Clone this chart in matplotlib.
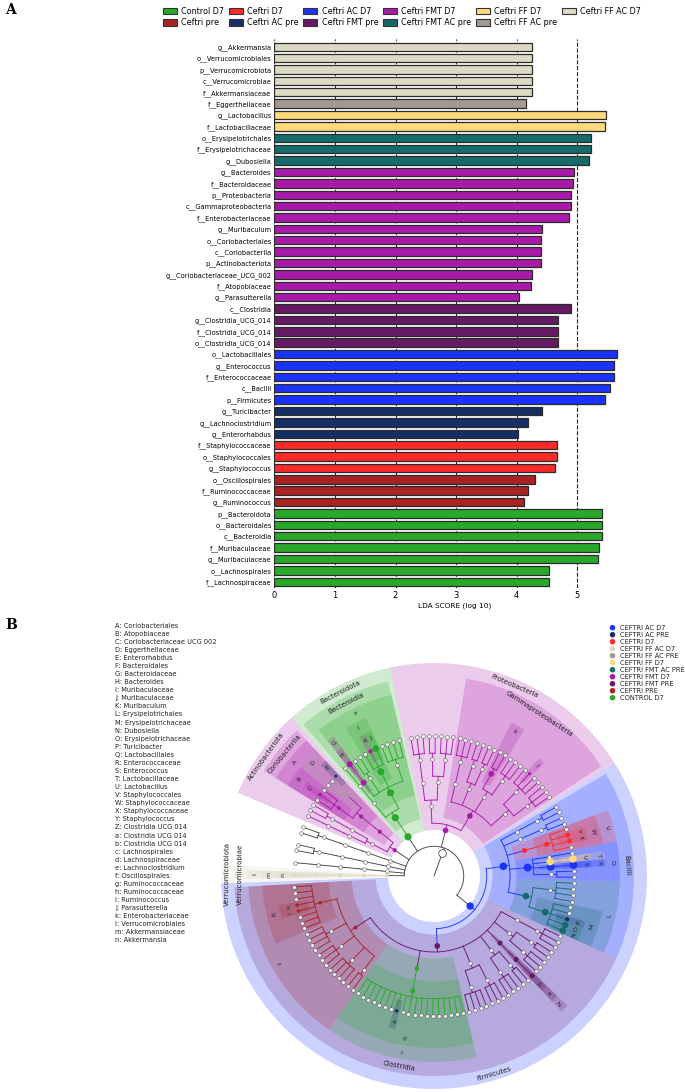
import numpy as np
import matplotlib.pyplot as plt
from matplotlib.patches import Patch, Wedge

# ---------------- panel A : LDA scores (top to bottom)
features = [
    'g__Akkermansia', 'o__Verrucomicrobiales', 'p__Verrucomicrobiota', 'c__Verrucomicrobiae',
    'f__Akkermansiaceae', 'f__Eggerthellaceae', 'g__Lactobacillus', 'f__Lactobacillaceae',
    'o__Erysipelotrichales', 'f__Erysipelotrichaceae', 'g__Dubosiella', 'g__Bacteroides',
    'f__Bacteroidaceae', 'p__Proteobacteria', 'c__Gammaproteobacteria', 'f__Enterobacteriaceae',
    'g__Muribaculum', 'o__Coriobacteriales', 'c__Coriobacteriia', 'p__Actinobacteriota',
    'g__Coriobacteriaceae_UCG_002', 'f__Atopobiaceae', 'g__Parasutterella', 'c__Clostridia',
    'g__Clostridia_UCG_014', 'f__Clostridia_UCG_014', 'o__Clostridia_UCG_014', 'o__Lactobacillales',
    'g__Enterococcus', 'f__Enterococcaceae', 'c__Bacilli', 'p__Firmicutes',
    'g__Turicibacter', 'g__Lachnoclostridium', 'g__Enterorhabdus', 'f__Staphylococcaceae',
    'o__Staphylococcales', 'g__Staphylococcus', 'o__Oscillospirales', 'f__Ruminococcaceae',
    'g__Ruminococcus', 'p__Bacteroidota', 'o__Bacteroidales', 'c__Bacteroidia',
    'f__Muribaculaceae', 'g__Muribaculaceae', 'o__Lachnospirales', 'f__Lachnospiraceae',
]
lda = [
    4.26, 4.26, 4.26, 4.26, 4.26, 4.16, 5.47, 5.46,
    5.22, 5.22, 5.19, 4.94, 4.93, 4.89, 4.89, 4.87,
    4.41, 4.40, 4.40, 4.40, 4.25, 4.24, 4.03, 4.90,
    4.68, 4.68, 4.68, 5.65, 5.60, 5.60, 5.54, 5.45,
    4.41, 4.18, 4.02, 4.67, 4.67, 4.63, 4.30, 4.18,
    4.12, 5.40, 5.40, 5.40, 5.35, 5.34, 4.54, 4.54,
]
groups = (['Ceftri FF AC D7'] * 5 + ['Ceftri FF AC pre'] + ['Ceftri FF D7'] * 2
          + ['Ceftri FMT AC pre'] * 3 + ['Ceftri FMT D7'] * 12 + ['Ceftri FMT pre'] * 4
          + ['Ceftri AC D7'] * 5 + ['Ceftri AC pre'] * 3 + ['Ceftri D7'] * 3
          + ['Ceftri pre'] * 3 + ['Control D7'] * 7)

# legend order (matplotlib fills column by column)
legend_groups = ['Control D7', 'Ceftri pre', 'Ceftri D7', 'Ceftri AC pre', 'Ceftri AC D7',
                 'Ceftri FMT pre', 'Ceftri FMT D7', 'Ceftri FMT AC pre', 'Ceftri FF D7',
                 'Ceftri FF AC pre', 'Ceftri FF AC D7']
group_colors = {
    'Control D7': '#2aa82a', 'Ceftri D7': '#ff2a2a', 'Ceftri AC D7': '#1a33ff',
    'Ceftri FMT D7': '#aa1aaa', 'Ceftri FF D7': '#ffd97a', 'Ceftri FF AC D7': '#dcdac4',
    'Ceftri pre': '#aa2222', 'Ceftri AC pre': '#142f66', 'Ceftri FMT pre': '#661a66',
    'Ceftri FMT AC pre': '#156b6b', 'Ceftri FF AC pre': '#a39a92',
}

# ---------------- panel B : cladogram
clade_key = [
    'A: Coriobacteriales', 'B: Atopobiaceae', 'C: Coriobacteriaceae UCG 002', 'D: Eggerthellaceae',
    'E: Enterorhabdus', 'F: Bacteroidales', 'G: Bacteroidaceae', 'H: Bacteroides',
    'I: Muribaculaceae', 'J: Muribaculaceae', 'K: Muribaculum', 'L: Erysipelotrichales',
    'M: Erysipelotrichaceae', 'N: Dubosiella', 'O: Erysipelotrichaceae', 'P: Turicibacter',
    'Q: Lactobacillales', 'R: Enterococcaceae', 'S: Enterococcus', 'T: Lactobacillaceae',
    'U: Lactobacillus', 'V: Staphylococcales', 'W: Staphylococcaceae', 'X: Staphylococcaceae',
    'Y: Staphylococcus', 'Z: Clostridia UCG 014', 'a: Clostridia UCG 014', 'b: Clostridia UCG 014',
    'c: Lachnospirales', 'd: Lachnospiraceae', 'e: Lachnoclostridium', 'f: Oscillospirales',
    'g: Ruminococcaceae', 'h: Ruminococcaceae', 'i: Ruminococcus', 'j: Parasutterella',
    'k: Enterobacteriaceae', 'l: Verrucomicrobiales', 'm: Akkermansiaceae', 'n: Akkermansia',
]

# (label, feature, children); a list is an unmarked clade, an int n a clade ending in n genera
tree = [
    ('Firmicutes', 'p__Firmicutes', [
        ('Clostridia', 'c__Clostridia', [
            ('f', 'o__Oscillospirales', [
                ('g', 'f__Ruminococcaceae', [3, ('h', 'f__Ruminococcaceae', []),
                                             ('i', 'g__Ruminococcus', []), 3]),
                4, 3, 4, 2]),
            ('c', 'o__Lachnospirales', [
                ('d', 'f__Lachnospiraceae', [7, ('e', 'g__Lachnoclostridium', []), 11])]),
            [4, 3], [3, 2],
            ('Z', 'o__Clostridia_UCG_014', [
                ('a', 'f__Clostridia_UCG_014', [('b', 'g__Clostridia_UCG_014', [])])]),
            [3, 2], 3]),
        ('Bacilli', 'c__Bacilli', [
            ('L', 'o__Erysipelotrichales', [
                ('M', 'f__Erysipelotrichaceae', [('N', 'g__Dubosiella', []),
                                                 ('O', 'f__Erysipelotrichaceae', []),
                                                 ('P', 'g__Turicibacter', []), 2]),
                4]),
            ('Q', 'o__Lactobacillales', [
                2,
                ('R', 'f__Enterococcaceae', [('S', 'g__Enterococcus', [])]),
                ('T', 'f__Lactobacillaceae', [('U', 'g__Lactobacillus', [])]),
                1]),
            ('V', 'o__Staphylococcales', [
                ('W', 'f__Staphylococcaceae', [1, ('X', 'f__Staphylococcaceae', []),
                                               ('Y', 'g__Staphylococcus', []), 1])]),
            [2], [2]]),
    ]),
    ('Proteobacteria', 'p__Proteobacteria', [
        ('Gammaproteobacteria', 'c__Gammaproteobacteria', [
            [3, [2, ('j', 'g__Parasutterella', []), 1]],
            [3, ('k', 'f__Enterobacteriaceae', [2])],
            [2, 2],
            3]),
        [[3, 2], 3]]),
    ('Bacteroidota', 'p__Bacteroidota', [
        ('Bacteroidia', 'c__Bacteroidia', [
            ('F', 'o__Bacteroidales', [
                4,
                ('I', 'f__Muribaculaceae', [('J', 'g__Muribaculaceae', []),
                                            ('K', 'g__Muribaculum', []), 1]),
                2,
                ('G', 'f__Bacteroidaceae', [('H', 'g__Bacteroides', [])])]),
            1])]),
    ('Actinobacteriota', 'p__Actinobacteriota', [
        ('Coriobacteriia', 'c__Coriobacteriia', [
            ('A', 'o__Coriobacteriales', [
                ('D', 'f__Eggerthellaceae', [('E', 'g__Enterorhabdus', []), 2]),
                ('B', 'f__Atopobiaceae', [1, ('C', 'g__Coriobacteriaceae_UCG_002', []), 1])])]),
        [2, 1]]),
    2, 2, 1,
    ('Verrucomicrobiota', 'p__Verrucomicrobiota', [
        ('Verrucomicrobiae', 'c__Verrucomicrobiae', [
            ('l', 'o__Verrucomicrobiales', [
                ('m', 'f__Akkermansiaceae', [('n', 'g__Akkermansia', [])])])])]),
]

grp_of = dict(zip(features, groups))
lda_of = dict(zip(features, lda))

# ---------------- figure
fig = plt.figure(figsize=(6.85, 10.92), dpi=100)
W, H = 685.0, 1092.0

# panel A
ax = fig.add_axes([274.3 / W, 1 - 588 / H, 5.95 * 60.6 / W, 549 / H])
ypos = np.arange(len(features))[::-1]
ax.barh(ypos, lda, height=0.74, color=[group_colors[g] for g in groups],
        edgecolor='#2a2a2a', linewidth=0.9)
ax.set_yticks(ypos)
ax.set_yticklabels(features, fontsize=4.8)
ax.set_xlim(0, 5.95)
ax.set_ylim(-0.55, len(features) - 0.32)
ax.set_xticks(range(6))
ax.tick_params(axis='x', labelsize=6, length=0, pad=2)
ax.tick_params(axis='y', length=0, pad=2)
ax.set_axisbelow(True)
ax.xaxis.grid(True, ls='--', color='#222222', lw=0.8)
for s in ax.spines.values():
    s.set_visible(False)
ax.set_xlabel('LDA SCORE (log 10)', fontsize=5.3, labelpad=2)

handles = [Patch(facecolor=group_colors[g], edgecolor='#333333', lw=0.8, label=g)
           for g in legend_groups]
fig.legend(handles=handles, ncol=6, loc='upper left', bbox_to_anchor=(157 / W, 1 - 1 / H),
           frameon=False, fontsize=5.8, handlelength=1.75, handleheight=0.85,
           handletextpad=0.55, columnspacing=0.55, labelspacing=0.35, borderpad=0.2)

# panel B : cladogram in pixel units around the centre (434, 876)
cx, cy = 434.0, 876.0
bx = fig.add_axes([(cx - 235) / W, 0, 470 / W, 446 / H])
bx.set_xlim(-235, 235)
bx.set_ylim(-(H - cy), 230)
bx.axis('off')

RADII = [0, 24, 47, 70, 94, 117, 140]
RING_OUT = {2: 213, 3: 200, 4: 186, 5: 172, 6: 158}
GAP = 1.0
THETA0 = -178.0
EDGE = '#444444'


def expand(item, level):
    if isinstance(item, int):
        if level == 6:
            return [{'label': '', 'feat': None, 'level': 6, 'kids': []} for _ in range(item)]
        return [{'label': '', 'feat': None, 'level': level, 'kids': expand(item, level + 1)}]
    if isinstance(item, list):
        kids = [k for it in item for k in expand(it, level + 1)]
        return [{'label': '', 'feat': None, 'level': level, 'kids': kids}]
    label, feat, sub = item
    kids = [k for it in sub for k in expand(it, level + 1)]
    return [{'label': label, 'feat': feat, 'level': level, 'kids': kids}]


phyla = [n for it in tree for n in expand(it, 2)]
kingdom = {'label': '', 'feat': None, 'level': 1, 'kids': phyla}
counter = [0.0]


def place(node):
    if not node['kids']:
        counter[0] += 1
        node['u'] = node['u0'] = node['u1'] = counter[0] - 0.5
        return
    for k in node['kids']:
        place(k)
    node['u'] = (node['kids'][0]['u'] + node['kids'][-1]['u']) / 2
    node['u0'] = node['kids'][0]['u0']
    node['u1'] = node['kids'][-1]['u1']


for p in phyla:
    counter[0] += GAP / 2
    place(p)
    counter[0] += GAP / 2
kingdom['u'] = (phyla[0]['u'] + phyla[-1]['u']) / 2
step = 360.0 / counter[0]


def ang(u):
    return THETA0 + u * step


def pt(r, a):
    t = np.radians(a)
    return r * np.cos(t), r * np.sin(t)


def walk(node, out):
    out.append(node)
    for k in node['kids']:
        walk(k, out)
    return out


nodes = walk(kingdom, [])
marked = [n for n in nodes if n['feat']]

# shaded sectors, outer levels first
for n in sorted(marked, key=lambda n: n['level']):
    lev = n['level']
    pad = 0.5 + (GAP / 2 if lev == 2 else 0)
    a0, a1 = ang(n['u0'] - pad), ang(n['u1'] + pad)
    r_in = 46 if lev == 2 else RADII[lev] - 11.5
    r_out = RING_OUT[lev]
    bx.add_patch(Wedge((0, 0), r_out, a0, a1, width=r_out - r_in,
                       facecolor=group_colors[grp_of[n['feat']]], alpha=0.22, lw=0, zorder=1))
    am = (a0 + a1) / 2
    rot = am - 90
    while rot > 90:
        rot -= 180
    while rot <= -90:
        rot += 180
    tx, ty = pt(r_out - 6.5, am)
    bx.text(tx, ty, n['label'], rotation=rot, rotation_mode='anchor', ha='center', va='center',
            fontsize=5 if lev <= 3 else 4.5, color='#222222', zorder=5)


# tree edges
def draw_edges(node, col):
    if node['feat']:
        col = group_colors[grp_of[node['feat']]]
    if not node['kids']:
        return
    rp, rc = RADII[node['level']], RADII[node['level'] + 1]
    ra = rp + 0.25 * (rc - rp)
    ap = ang(node['u'])
    ks = [ang(k['u']) for k in node['kids']]
    lo, hi = min(ks + [ap]), max(ks + [ap])
    x0, y0 = pt(rp, ap)
    x1, y1 = pt(ra, ap)
    bx.plot([x0, x1], [y0, y1], color=col, lw=0.65, zorder=2)
    t = np.linspace(lo, hi, max(2, int((hi - lo) * 2)))
    bx.plot(ra * np.cos(np.radians(t)), ra * np.sin(np.radians(t)), color=col, lw=0.65, zorder=2)
    for a in ks:
        x0, y0 = pt(ra, a)
        x1, y1 = pt(rc, a)
        bx.plot([x0, x1], [y0, y1], color=col, lw=0.65, zorder=2)
    for k in node['kids']:
        draw_edges(k, col)


kx, ky = pt(RADII[1], ang(kingdom['u']))
bx.plot([0, kx], [0, ky], color=EDGE, lw=0.65, zorder=2)
draw_edges(kingdom, EDGE)

# node markers
for n in nodes:
    x, y = pt(RADII[n['level']], ang(n['u']))
    if n['feat']:
        d = (3 + (lda_of[n['feat']] - 4) * 3) * 0.72
        bx.scatter(x, y, s=d ** 2, c=group_colors[grp_of[n['feat']]], edgecolors='none', zorder=4)
    elif n['level'] == 1:
        bx.scatter(x, y, s=30, c='white', edgecolors='#333333', linewidths=0.5, zorder=4)
    else:
        bx.scatter(x, y, s=7, c='white', edgecolors='#555555', linewidths=0.4, zorder=3)

# overlay in figure pixels for panel letters, letter key and cladogram legend
ov = fig.add_axes([0, 0, 1, 1])
ov.set_xlim(0, W)
ov.set_ylim(H, 0)
ov.axis('off')
ov.patch.set_alpha(0)
ov.text(5, 10, 'A', fontsize=10, fontweight='bold', family='DejaVu Serif', va='center')
ov.text(5, 625, 'B', fontsize=10, fontweight='bold', family='DejaVu Serif', va='center')
for i, s in enumerate(clade_key):
    ov.text(115, 625.7 + 8.07 * i, s, fontsize=4.8, va='center', color='#222222')
for i, g in enumerate(sorted(group_colors, key=str.upper)):
    yy = 627.7 + 7.0 * i
    ov.scatter(612.5, yy, s=16, c=group_colors[g], edgecolors='none')
    ov.text(620, yy, g.upper(), fontsize=4.8, va='center', color='#222222')

fig.savefig('out.png', dpi=100)
